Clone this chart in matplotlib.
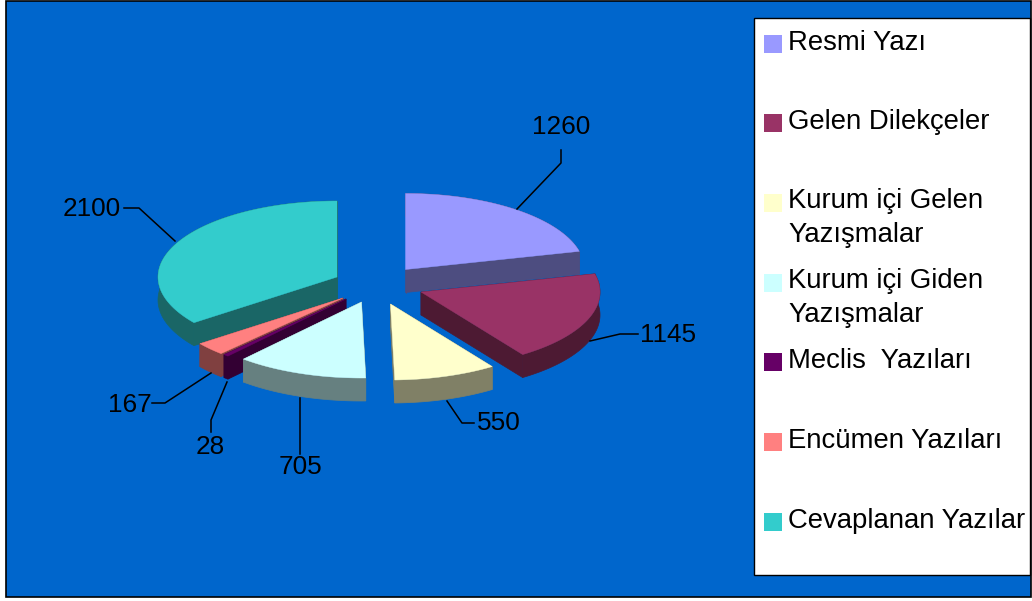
import numpy as np
import matplotlib
matplotlib.use('Agg')
import matplotlib.pyplot as plt
from matplotlib.patches import Polygon, Rectangle

plt.rcParams['font.family'] = ['Liberation Sans', 'DejaVu Sans']

# data
labels = ['Resmi Yazı', 'Gelen Dilekçeler', 'Kurum içi Gelen\nYazışmalar', 'Kurum içi Giden\nYazışmalar',
          'Meclis  Yazıları', 'Encümen Yazıları', 'Cevaplanan Yazılar']
values = [1260, 1145, 550, 705, 28, 167, 2100]
colors = ['#9999FF', '#993366', '#FFFFCC', '#CCFFFF', '#660066', '#FF8080', '#33CCCC']

# layout, in pixels of the picture
apex = [(405.5, 269.5), (421, 292), (390.5, 304), (361.5, 302), (346, 299), (343, 298), (337, 277)]
rx, ry, depth = 179, 76, 23
draw_order = [6, 5, 4, 3, 0, 1, 2]
label_pos = [(561, 127.5), (668, 335.5), (499, 423.5), (301, 467.5), (210, 447.5), (130, 404.5), (92, 208.5)]
leaders = [[(561, 150), (561, 163), (517, 209)],
           [(638, 334), (620, 334), (590, 341)],
           [(447, 401), (462, 423), (474, 423)],
           [(300, 398), (300, 454)],
           [(227, 382), (211, 420), (211, 432)],
           [(211, 373), (165, 403), (152, 403)],
           [(175, 241), (139, 208), (124, 208)]]
legend_base = [49.5, 129, 208.5, 288.5, 368, 447.5, 527.5]

fig = plt.figure(figsize=(10.32, 6.01), dpi=100)
ax = fig.add_axes([0, 0, 1, 1])
ax.set_xlim(0, 1032)
ax.set_ylim(601, 0)
ax.axis('off')

ax.add_patch(Rectangle((6, 0.5), 1025, 596.5, fc='#0066CC', ec='black', lw=1.2))

# angles clockwise from 12 o'clock
edges = np.cumsum([0] + values) / sum(values) * 2 * np.pi


def shade(col):
    return tuple(c * 0.5 for c in matplotlib.colors.to_rgb(col))


for i in draw_order:
    cx, cy = apex[i]
    t = np.linspace(edges[i], edges[i + 1], 80)
    rim = np.column_stack([cx + rx * np.sin(t), cy - ry * np.cos(t)])
    low = rim + [0, depth]
    c0 = np.array([cx, cy])
    side = shade(colors[i])
    # radial walls first, then outer rim, then the top
    for p in (rim[0], rim[-1]):
        wall = [c0, p, p + [0, depth], c0 + [0, depth]]
        ax.add_patch(Polygon(wall, fc=side, ec=side, lw=0.5))
    ax.add_patch(Polygon(np.vstack([rim, low[::-1]]), fc=side, ec=side, lw=0.5))
    ax.add_patch(Polygon(np.vstack([c0, rim]), fc=colors[i], ec=colors[i], lw=0.3))

# value labels
for v, pos, line in zip(values, label_pos, leaders):
    xs, ys = zip(*line)
    ax.plot(xs, ys, color='black', lw=1.1)
    ax.text(pos[0], pos[1], str(v), fontsize=18.8, ha='center', va='center', color='black')

# legend
ax.add_patch(Rectangle((753.5, 18), 276.5, 557, fc='white', ec='black', lw=1.0))
for lab, col, base in zip(labels, colors, legend_base):
    ax.add_patch(Rectangle((764, base - 15), 18, 18, fc=col, ec='none'))
    for k, part in enumerate(lab.split('\n')):
        ax.text(788, base + k * 33.5, part, fontsize=19.8, va='baseline', ha='left', color='black')

fig.savefig('out.png', dpi=100)
